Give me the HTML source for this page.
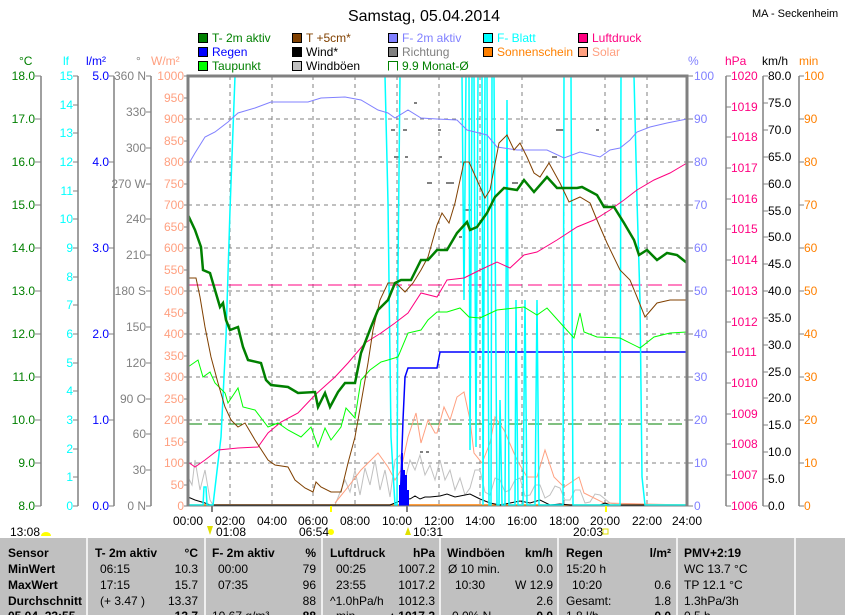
<!DOCTYPE html>
<html><head><meta charset="utf-8"><style>
html,body{margin:0;padding:0;background:#fff;}
svg{display:block;font-family:"Liberation Sans",sans-serif;}
</style></head><body>
<svg width="845" height="615" viewBox="0 0 845 615" xmlns="http://www.w3.org/2000/svg">
<rect width="845" height="615" fill="#fff"/>
<text x="424" y="21" font-size="16" text-anchor="middle">Samstag, 05.04.2014</text>
<text x="752" y="17" font-size="11">MA - Seckenheim</text>

<!-- legend -->
<g font-size="12">
<rect x="198.5" y="33.5" width="9" height="9" fill="#008000" stroke="#000"/><text x="212" y="42" fill="#008000">T- 2m aktiv</text>
<rect x="198.5" y="47.5" width="9" height="9" fill="#0000ff" stroke="#000"/><text x="212" y="56" fill="#0000ff">Regen</text>
<rect x="198.5" y="61.5" width="9" height="9" fill="#00ff00" stroke="#000"/><text x="212" y="70" fill="#008000">Taupunkt</text>
<rect x="292.5" y="33.5" width="9" height="9" fill="#804000" stroke="#000"/><text x="306" y="42" fill="#804000">T +5cm*</text>
<rect x="292.5" y="47.5" width="9" height="9" fill="#000" stroke="#000"/><text x="306" y="56" fill="#000">Wind*</text>
<rect x="292.5" y="61.5" width="9" height="9" fill="#c0c0c0" stroke="#000"/><text x="306" y="70" fill="#000">Windböen</text>
<rect x="388.5" y="33.5" width="9" height="9" fill="#8080ff" stroke="#000"/><text x="402" y="42" fill="#8080ff">F- 2m aktiv</text>
<rect x="388.5" y="47.5" width="9" height="9" fill="#808080" stroke="#000"/><text x="402" y="56" fill="#808080">Richtung</text>
<path d="M388.5 70.5 V61.5 H397.5 V70.5" fill="none" stroke="#008000"/><text x="402" y="70" fill="#008000">9.9 Monat-Ø</text>
<rect x="483.5" y="33.5" width="9" height="9" fill="#00ffff" stroke="#000"/><text x="497" y="42" fill="#00ffff">F- Blatt</text>
<rect x="483.5" y="47.5" width="9" height="9" fill="#ff8000" stroke="#000"/><text x="497" y="56" fill="#ff8000">Sonnenschein</text>
<rect x="578.5" y="33.5" width="9" height="9" fill="#ff0080" stroke="#000"/><text x="592" y="42" fill="#ff0080">Luftdruck</text>
<rect x="578.5" y="47.5" width="9" height="9" fill="#ffa080" stroke="#000"/><text x="592" y="56" fill="#ffa080">Solar</text>
</g>

<!-- axis headers -->
<g font-size="12">
<text x="19" y="65" fill="#008000">°C</text>
<text x="63" y="65" fill="#00ffff">lf</text>
<text x="86" y="65" fill="#0000ff">l/m²</text>
<text x="136" y="65" fill="#808080">°</text>
<text x="151" y="65" fill="#ffa080">W/m²</text>
<text x="688" y="65" fill="#8080ff">%</text>
<text x="725" y="65" fill="#ff0080">hPa</text>
<text x="762" y="65" fill="#000">km/h</text>
<text x="799" y="65" fill="#ff8000">min</text>
</g>

<!-- left axes lines -->
<g stroke="#808080" stroke-width="1.5" fill="none">
<line x1="41" y1="76" x2="41" y2="506"/>
<line x1="78" y1="76" x2="78" y2="506"/>
<line x1="114" y1="76" x2="114" y2="506"/>
<line x1="151" y1="76" x2="151" y2="506"/>
<line x1="726" y1="76" x2="726" y2="506"/>
<line x1="763" y1="76" x2="763" y2="506"/>
<line x1="799" y1="76" x2="799" y2="506"/>
</g>

<g font-size="12" id="ax">
<!-- °C -->
<g fill="#008000" text-anchor="end">
<text x="35" y="80">18.0</text><text x="35" y="123">17.0</text><text x="35" y="166">16.0</text><text x="35" y="209">15.0</text><text x="35" y="252">14.0</text><text x="35" y="295">13.0</text><text x="35" y="338">12.0</text><text x="35" y="381">11.0</text><text x="35" y="424">10.0</text><text x="35" y="467">9.0</text><text x="35" y="510">8.0</text>
</g>
<g stroke="#808080"><path d="M35 76H41M35 119H41M35 162H41M35 205H41M35 248H41M35 291H41M35 334H41M35 377H41M35 420H41M35 463H41M35 506H41"/></g>
<!-- lf -->
<g fill="#00ffff" text-anchor="end">
<text x="73" y="80">15</text><text x="73" y="109">14</text><text x="73" y="137">13</text><text x="73" y="166">12</text><text x="73" y="195">11</text><text x="73" y="223">10</text><text x="73" y="252">9</text><text x="73" y="281">8</text><text x="73" y="309">7</text><text x="73" y="338">6</text><text x="73" y="367">5</text><text x="73" y="395">4</text><text x="73" y="424">3</text><text x="73" y="453">2</text><text x="73" y="481">1</text><text x="73" y="510">0</text>
</g>
<g stroke="#808080"><path d="M73 76H78M73 105H78M73 133H78M73 162H78M73 191H78M73 219H78M73 248H78M73 277H78M73 305H78M73 334H78M73 363H78M73 391H78M73 420H78M73 449H78M73 477H78M73 506H78"/></g>
<!-- l/m2 -->
<g fill="#0000ff" text-anchor="end">
<text x="109" y="80">5.0</text><text x="109" y="166">4.0</text><text x="109" y="252">3.0</text><text x="109" y="338">2.0</text><text x="109" y="424">1.0</text><text x="109" y="510">0.0</text>
</g>
<g stroke="#808080"><path d="M109 76H114M109 162H114M109 248H114M109 334H114M109 420H114M109 506H114"/></g>
<!-- degrees -->
<g fill="#808080" text-anchor="end">
<text x="146" y="80">360 N</text><text x="146" y="116">330</text><text x="146" y="152">300</text><text x="146" y="188">270 W</text><text x="146" y="223">240</text><text x="146" y="259">210</text><text x="146" y="295">180 S</text><text x="146" y="331">150</text><text x="146" y="367">120</text><text x="146" y="403">90  O</text><text x="146" y="438">60</text><text x="146" y="474">30</text><text x="146" y="510">0   N</text>
</g>
<g stroke="#808080"><path d="M146 76H151M146 112H151M146 148H151M146 184H151M146 219H151M146 255H151M146 291H151M146 327H151M146 363H151M146 399H151M146 434H151M146 470H151M146 506H151"/></g>
<!-- W/m2 -->
<g fill="#ffa080" text-anchor="end">
<text x="184" y="80">1000</text><text x="184" y="102">950</text><text x="184" y="123">900</text><text x="184" y="145">850</text><text x="184" y="166">800</text><text x="184" y="188">750</text><text x="184" y="209">700</text><text x="184" y="231">650</text><text x="184" y="252">600</text><text x="184" y="274">550</text><text x="184" y="295">500</text><text x="184" y="317">450</text><text x="184" y="338">400</text><text x="184" y="360">350</text><text x="184" y="381">300</text><text x="184" y="403">250</text><text x="184" y="424">200</text><text x="184" y="446">150</text><text x="184" y="467">100</text><text x="184" y="489">50</text><text x="184" y="510">0</text>
</g>
<g stroke="#808080"><path d="M184 76H188M184 98H188M184 119H188M184 141H188M184 162H188M184 184H188M184 205H188M184 227H188M184 248H188M184 270H188M184 291H188M184 313H188M184 334H188M184 356H188M184 377H188M184 399H188M184 420H188M184 442H188M184 463H188M184 485H188M184 506H188"/></g>
<!-- % -->
<g fill="#8080ff">
<text x="694" y="80">100</text><text x="694" y="123">90</text><text x="694" y="166">80</text><text x="694" y="209">70</text><text x="694" y="252">60</text><text x="694" y="295">50</text><text x="694" y="338">40</text><text x="694" y="381">30</text><text x="694" y="424">20</text><text x="694" y="467">10</text><text x="694" y="510">0</text>
</g>
<g stroke="#808080"><path d="M687 76H693M687 119H693M687 162H693M687 205H693M687 248H693M687 291H693M687 334H693M687 377H693M687 420H693M687 463H693M687 506H693"/></g>
<!-- hPa -->
<g fill="#ff0080">
<text x="731" y="80">1020</text><text x="731" y="111">1019</text><text x="731" y="141">1018</text><text x="731" y="172">1017</text><text x="731" y="203">1016</text><text x="731" y="233">1015</text><text x="731" y="264">1014</text><text x="731" y="295">1013</text><text x="731" y="326">1012</text><text x="731" y="356">1011</text><text x="731" y="387">1010</text><text x="731" y="418">1009</text><text x="731" y="448">1008</text><text x="731" y="479">1007</text><text x="731" y="510">1006</text>
</g>
<g stroke="#808080"><path d="M726 76H731M726 107H731M726 137H731M726 168H731M726 199H731M726 229H731M726 260H731M726 291H731M726 322H731M726 352H731M726 383H731M726 414H731M726 444H731M726 475H731M726 506H731"/></g>
<!-- km/h -->
<g fill="#000">
<text x="768" y="80">80.0</text><text x="768" y="107">75.0</text><text x="768" y="134">70.0</text><text x="768" y="161">65.0</text><text x="768" y="188">60.0</text><text x="768" y="215">55.0</text><text x="768" y="241">50.0</text><text x="768" y="268">45.0</text><text x="768" y="295">40.0</text><text x="768" y="322">35.0</text><text x="768" y="349">30.0</text><text x="768" y="376">25.0</text><text x="768" y="402">20.0</text><text x="768" y="429">15.0</text><text x="768" y="456">10.0</text><text x="768" y="483">5.0</text><text x="768" y="510">0.0</text>
</g>
<g stroke="#808080"><path d="M763 76H768M763 103H768M763 130H768M763 157H768M763 184H768M763 211H768M763 237H768M763 264H768M763 291H768M763 318H768M763 345H768M763 372H768M763 398H768M763 425H768M763 452H768M763 479H768M763 506H768"/></g>
<!-- min -->
<g fill="#ff8000">
<text x="804" y="80">100</text><text x="804" y="123">90</text><text x="804" y="166">80</text><text x="804" y="209">70</text><text x="804" y="252">60</text><text x="804" y="295">50</text><text x="804" y="338">40</text><text x="804" y="381">30</text><text x="804" y="424">20</text><text x="804" y="467">10</text><text x="804" y="510">0</text>
</g>
<g stroke="#808080"><path d="M799 76H804M799 119H804M799 162H804M799 205H804M799 248H804M799 291H804M799 334H804M799 377H804M799 420H804M799 463H804M799 506H804"/></g>
</g>

<!-- grid -->
<g stroke="#808080" stroke-dasharray="4,4" stroke-width="1">
<path d="M188 119H687M188 162H687M188 205H687M188 248H687M188 291H687M188 334H687M188 377H687M188 420H687M188 463H687"/>
<path d="M230 76V506M272 76V506M313 76V506M355 76V506M397 76V506M439 76V506M480 76V506M522 76V506M564 76V506M605 76V506M647 76V506"/>
</g>

<!-- dashed reference lines -->
<line x1="188" y1="285" x2="687" y2="285" stroke="#ff0080" stroke-dasharray="14,6"/>
<line x1="188" y1="424" x2="687" y2="424" stroke="#008000" stroke-dasharray="14,6"/>

<!-- windböen -->
<polyline fill="none" stroke="#c0c0c0" points="188,477 192,485 195,460 200,490 205,470 210,500 213,505 330,505 335,505 345,480 350,492 355,470 360,495 365,468 370,485 375,460 380,490 385,470 390,497 395,460 400,455 405,480 410,460 415,470 420,455 425,475 430,465 435,480 440,460 445,480 450,470 455,490 460,478 465,495 470,488 475,470 480,470 485,492 490,495 495,478 500,480 505,492 510,490 515,480 520,478 525,496 530,495 535,485 540,485 545,498 550,495 555,486 560,488 565,500 570,500 575,490 580,490 585,503 590,502 595,494 600,495 610,503 620,505 687,505"/>
<!-- solar -->
<polyline fill="none" stroke="#ffa080" points="335,503 348,487 361,470 378,453 388,467 395,480 401,470 408,437 416,413 421,443 428,420 435,433 437,433 444,407 450,420 457,397 464,392 470,420 474,453 482,463 490,443 495,417 504,430 517,460 527,477 537,477 545,450 554,477 564,487 579,477 584,493 604,503 687,505"/>
<!-- sonnenschein -->
<line x1="188" y1="505" x2="687" y2="505" stroke="#ff8000" stroke-width="1.5"/>
<!-- black wind -->
<polyline fill="none" stroke="#000" points="188,497 195,500 205,503 210,505 390,505 400,501 405,498 410,499 415,496 420,499 425,497 430,497 440,496 447,494 455,497 460,496 470,494 480,499 490,503 500,505 510,503 520,501 530,503 540,500 550,505 560,504 570,505 600,505 605,503 610,505 687,505"/>
<!-- Regen bars -->
<path d="M399 506V485H401V453H403V470H405V475H407V490H409V506Z" fill="#0000ff"/>
<polyline fill="none" stroke="#0000ff" stroke-width="1.5" points="400,506 403,420 405,377 408,368 437,368 440,352 687,352"/>
<!-- Richtung dots -->
<g fill="#808080">
<rect x="414" y="102" width="3" height="2"/><rect x="391" y="129" width="4" height="2"/><rect x="403" y="129" width="4" height="2"/><rect x="394" y="156" width="5" height="2"/><rect x="405" y="156" width="3" height="2"/><rect x="427" y="182" width="5" height="2"/><rect x="420" y="451" width="3" height="2"/><rect x="426" y="451" width="3" height="2"/><rect x="438" y="129" width="3" height="2"/><rect x="439" y="156" width="3" height="2"/><rect x="446" y="182" width="8" height="2"/><rect x="463" y="209" width="8" height="2"/><rect x="459" y="236" width="3" height="2"/><rect x="512" y="182" width="6" height="2"/><rect x="552" y="156" width="5" height="2"/><rect x="556" y="129" width="8" height="2"/><rect x="596" y="129" width="3" height="2"/>
</g>
<!-- F-Blatt cyan -->
<polyline fill="none" stroke="#00ffff" stroke-width="1.5" points="188,505 203,505 204,487 206,487 207,505 213,505 221,437 226,337 230,210 235,76 385,76 388,203 391,437 395,505 397,505 398,270 400,76 462,76 464,300 466,76 469,76 470,450 472,76 474,76 476,447 478,76 482,76 483,505 485,76 487,76 489,505 491,505 492,76 494,76 497,505 499,505 500,400 502,505 505,505 507,100 509,505 512,505 515,505 516,300 518,505 520,505 523,505 525,300 527,505 535,505 537,300 539,505 563,505 564,76 571,76 573,505 620,505 621,76 634,76 637,200 640,300 642,477 645,505 687,505"/>
<!-- F-2m -->
<polyline fill="none" stroke="#8080ff" points="188,165 195,153 205,137 215,132 228,122 238,113 255,108 271,102 308,102 321,98 345,97 361,100 378,110 388,113 395,118 408,110 421,118 437,119 457,120 467,130 487,135 497,147 517,150 547,150 564,158 580,152 600,157 610,150 620,148 630,140 637,132 650,127 667,123 687,119"/>
<!-- pressure -->
<polyline fill="none" stroke="#ff0080" points="188,462 195,467 205,460 218,450 238,448 258,447 268,433 281,422 298,413 315,395 335,377 348,363 365,343 381,333 395,323 408,313 421,293 437,297 447,280 464,278 480,270 497,262 510,268 524,255 537,252 557,240 577,227 594,220 610,210 624,200 637,190 654,180 670,173 687,163"/>
<!-- taupunkt -->
<polyline fill="none" stroke="#00ff00" points="188,367 198,360 203,377 210,372 215,383 225,393 228,403 238,388 243,407 255,410 268,427 278,423 288,430 301,437 311,427 318,447 325,428 331,440 341,427 346,408 355,418 361,380 370,370 381,362 388,360 398,357 408,333 421,330 428,320 437,312 447,312 460,308 469,317 480,318 497,310 524,307 537,315 547,308 564,327 574,338 580,313 584,332 597,337 620,338 640,348 654,337 670,333 687,332"/>
<!-- T+5cm -->
<polyline fill="none" stroke="#804000" points="188,278 196,278 200,297 205,327 211,357 218,383 225,407 231,420 238,427 245,423 255,440 268,460 275,465 288,467 295,480 305,488 313,492 316,482 321,487 331,492 341,492 348,463 355,437 361,403 368,363 373,330 380,300 388,283 396,283 405,292 413,283 421,270 428,257 437,225 442,213 449,223 455,203 464,162 469,162 477,180 485,198 490,190 499,143 507,135 514,150 520,143 527,157 534,173 540,177 549,163 560,183 569,202 580,197 590,203 597,220 607,243 620,270 630,280 637,297 645,317 657,303 670,300 687,300"/>
<!-- T-2m -->
<polyline fill="none" stroke="#008000" stroke-width="2.5" points="188,215 195,230 201,247 203,270 210,273 215,290 220,307 223,303 226,320 230,330 238,327 243,347 248,360 261,363 266,380 271,385 288,387 298,393 315,392 318,407 325,393 330,407 338,392 345,383 355,383 361,353 371,327 378,310 388,300 395,283 401,280 411,280 421,260 428,260 437,250 447,250 457,233 467,222 470,230 477,227 487,213 495,197 504,188 517,190 524,180 534,192 547,177 557,188 577,188 582,187 597,195 604,207 614,207 624,223 634,240 639,255 647,250 657,260 667,253 677,255 687,263"/>

<!-- plot frame -->
<path d="M188 506V76H687V506" fill="none" stroke="#808080" stroke-width="3"/>
<line x1="188" y1="506" x2="687" y2="506" stroke="#808080" stroke-width="1"/>

<!-- bottom ticks / markers -->
<line x1="331" y1="506" x2="331" y2="512" stroke="#ffff00" stroke-width="2"/>
<line x1="606" y1="506" x2="606" y2="512" stroke="#ffff00" stroke-width="2"/>
<line x1="212" y1="506" x2="212" y2="512" stroke="#808080" stroke-width="2"/>
<line x1="407" y1="506" x2="407" y2="512" stroke="#808080" stroke-width="2"/>

<!-- time labels -->
<g font-size="12" text-anchor="middle" fill="#000">
<text x="188" y="525">00:00</text><text x="230" y="525">02:00</text><text x="272" y="525">04:00</text><text x="313" y="525">06:00</text><text x="355" y="525">08:00</text><text x="397" y="525">10:00</text><text x="439" y="525">12:00</text><text x="480" y="525">14:00</text><text x="522" y="525">16:00</text><text x="564" y="525">18:00</text><text x="605" y="525">20:00</text><text x="647" y="525">22:00</text><text x="687" y="525">24:00</text>
</g>
<g font-size="12" fill="#000">
<text x="10" y="536">13:08</text><path d="M41 536 a5 4 0 0 1 10 0z" fill="#ffff00"/>
<text x="216" y="536">01:08</text><path d="M207 526 l3 9 l3 -9z" fill="#e0e000"/>
<text x="299" y="536">06:54</text><circle cx="331" cy="532" r="3" fill="#ffff00"/>
<text x="413" y="536">10:31</text><path d="M405 535 l3 -8 l3 8z" fill="#e0e000"/>
<text x="573" y="536">20:03</text><rect x="603" y="529" width="5" height="5" fill="none" stroke="#e0e000"/>
</g>

<!-- table -->
<rect x="0" y="538" width="845" height="77" fill="#c0c0c0"/>
<g stroke="#fff" stroke-width="1.5">
<path d="M87 538V615M205 538V615M322 538V615M440 538V615M558 538V615M677 538V615M795 538V615"/>
</g>
<g font-size="12" fill="#000">
<g font-weight="bold">
<text x="8" y="557">Sensor</text><text x="8" y="573">MinWert</text><text x="8" y="589">MaxWert</text><text x="8" y="605">Durchschnitt</text><text x="8" y="620">05.04. 23:55</text>
<text x="95" y="557">T- 2m aktiv</text><text x="198" y="557" text-anchor="end">°C</text>
<text x="212" y="557">F- 2m aktiv</text><text x="316" y="557" text-anchor="end">%</text>
<text x="330" y="557">Luftdruck</text><text x="435" y="557" text-anchor="end">hPa</text>
<text x="447" y="557">Windböen</text><text x="553" y="557" text-anchor="end">km/h</text>
<text x="566" y="557">Regen</text><text x="671" y="557" text-anchor="end">l/m²</text>
<text x="684" y="557">PMV+2:19</text>
<text x="198" y="620" text-anchor="end">13.7</text><text x="316" y="620" text-anchor="end">88</text><text x="435" y="620" text-anchor="end">▲1017.2</text><text x="553" y="620" text-anchor="end">0.0</text><text x="671" y="620" text-anchor="end">0.0</text>
</g>
<text x="100" y="573">06:15</text><text x="198" y="573" text-anchor="end">10.3</text>
<text x="218" y="573">00:00</text><text x="316" y="573" text-anchor="end">79</text>
<text x="336" y="573">00:25</text><text x="435" y="573" text-anchor="end">1007.2</text>
<text x="448" y="573">Ø 10 min.</text><text x="553" y="573" text-anchor="end">0.0</text>
<text x="566" y="573">15:20 h</text>
<text x="684" y="573">WC 13.7 °C</text>
<text x="100" y="589">17:15</text><text x="198" y="589" text-anchor="end">15.7</text>
<text x="218" y="589">07:35</text><text x="316" y="589" text-anchor="end">96</text>
<text x="336" y="589">23:55</text><text x="435" y="589" text-anchor="end">1017.2</text>
<text x="455" y="589">10:30</text><text x="553" y="589" text-anchor="end">W 12.9</text>
<text x="572" y="589">10:20</text><text x="671" y="589" text-anchor="end">0.6</text>
<text x="684" y="589">TP 12.1 °C</text>
<text x="100" y="605">(+ 3.47 )</text><text x="198" y="605" text-anchor="end">13.37</text>
<text x="316" y="605" text-anchor="end">88</text>
<text x="330" y="605">^1.0hPa/h</text><text x="435" y="605" text-anchor="end">1012.3</text>
<text x="553" y="605" text-anchor="end">2.6</text>
<text x="566" y="605">Gesamt:</text><text x="671" y="605" text-anchor="end">1.8</text>
<text x="684" y="605">1.3hPa/3h</text>
<text x="212" y="620">10.67 g/m³</text><text x="336" y="620">min</text><text x="452" y="620">0.0% N</text><text x="566" y="620">1.8 l/h</text><text x="684" y="620">0.5 h</text>
</g>
</svg>
</body></html>
